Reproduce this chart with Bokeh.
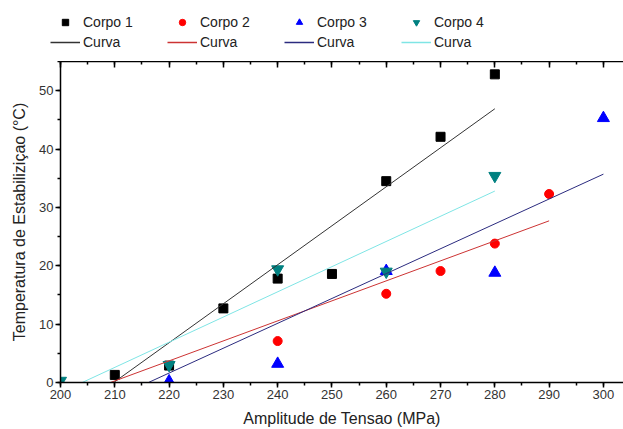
from bokeh.plotting import figure
from bokeh.models import Range1d, LinearAxis, Legend, LegendItem, SingleIntervalTicker
from bokeh.layouts import column
from bokeh.embed import file_html
from bokeh.resources import INLINE

# ---- data ----
corpo1_x = [210, 220, 230, 240, 250, 260, 270, 280]
corpo1_y = [1.3, 2.9, 12.7, 17.8, 18.6, 34.5, 42.1, 52.8]
corpo2_x = [240, 260, 270, 280, 290]
corpo2_y = [7.1, 15.2, 19.1, 23.8, 32.3]
corpo3_x = [220, 240, 260, 280, 300]
corpo3_y = [0.2, 3.2, 19.1, 18.8, 45.3]
corpo4_x = [200, 220, 240, 260, 280]
corpo4_y = [0.3, 3.0, 19.4, 19.0, 35.4]

curva1_x = [209.8, 280]
curva1_y = [0.0, 46.9]
curva2_x = [209.2, 290]
curva2_y = [0.0, 27.7]
curva3_x = [216.2, 300]
curva3_y = [0.0, 35.7]
curva4_x = [204.0, 280]
curva4_y = [0.0, 32.8]

series_labels = ["Corpo 1", "Corpo 2", "Corpo 3", "Corpo 4"]
curve_label = "Curva"

FONT = "Liberation Sans"
marker_styles = [dict(marker="square", size=9, color="black"),
                 dict(marker="circle", size=9, color="#ff0000"),
                 dict(marker="triangle", size=12, color="#0000ff"),
                 dict(marker="inverted_triangle", size=12, color="#008080")]
line_colors = ["#333333", "#cc3333", "#2b2b7f", "#7fe5e5"]

corpo_x = [corpo1_x, corpo2_x, corpo3_x, corpo4_x]
corpo_y = [corpo1_y, corpo2_y, corpo3_y, corpo4_y]
curva_x = [curva1_x, curva2_x, curva3_x, curva4_x]
curva_y = [curva1_y, curva2_y, curva3_y, curva4_y]

LEG_H = 61

# ---------------- main plot ----------------
p = figure(width=623, height=429 - LEG_H, output_backend="svg", toolbar_location=None,
           x_range=Range1d(200, 303.7), y_range=Range1d(0, 55),
           min_border_left=60, min_border_top=0, min_border_right=0, min_border_bottom=47,
           x_axis_label="Amplitude de Tensao (MPa)",
           y_axis_label="Temperatura de Estabiliziçao (°C)")
p.outline_line_color = None
p.grid.visible = False

p.xaxis.ticker = SingleIntervalTicker(interval=10, num_minor_ticks=2)
p.yaxis.ticker = SingleIntervalTicker(interval=10, num_minor_ticks=2)
for ax in (p.xaxis[0], p.yaxis[0]):
    ax.axis_line_color = "black"
    ax.axis_line_width = 1.5
    ax.major_tick_line_color = "black"
    ax.minor_tick_line_color = "black"
    ax.major_tick_line_width = 1.5
    ax.minor_tick_line_width = 1.5
    ax.major_tick_out = 5
    ax.major_tick_in = 0
    ax.minor_tick_out = 3
    ax.minor_tick_in = 0
    ax.major_label_text_font = FONT
    ax.major_label_text_font_size = "13px"
    ax.major_label_text_color = "#333333"
    ax.major_label_standoff = 2
    ax.axis_label_text_font = FONT
    ax.axis_label_text_font_size = "16px"
    ax.axis_label_text_font_style = "normal"
    ax.axis_label_text_color = "#222222"
p.xaxis[0].axis_label_standoff = 8
p.yaxis[0].axis_label_standoff = 8

top = LinearAxis(ticker=SingleIntervalTicker(interval=10, num_minor_ticks=2))
top.axis_line_color = "black"
top.axis_line_width = 1.5
top.major_tick_line_color = "black"
top.minor_tick_line_color = "black"
top.major_tick_line_width = 1.5
top.minor_tick_line_width = 1.5
top.major_tick_in = 6
top.major_tick_out = 0
top.minor_tick_in = 3
top.minor_tick_out = 0
top.major_label_text_font_size = "6px"
top.major_label_text_color = None
top.major_label_standoff = 0
p.add_layout(top, "above")

for xs, ys, st in zip(corpo_x, corpo_y, marker_styles):
    p.scatter(xs, ys, **st)
for xs, ys, c in zip(curva_x, curva_y, line_colors):
    p.line(xs, ys, line_color=c, line_width=1)

# ---------------- legend strip ----------------
lg = figure(width=623, height=LEG_H, output_backend="svg", toolbar_location=None,
            x_range=Range1d(0, 1), y_range=Range1d(0, 1),
            x_axis_type=None, y_axis_type=None,
            min_border_left=0, min_border_right=0, min_border_top=0, min_border_bottom=0)
lg.outline_line_color = None
lg.grid.visible = False

if "frame_align" in lg.properties():
    lg.frame_align = False
    legend_x = 50
else:
    legend_x = 0

items = []
for lab, st, c, cx, cy, lx, ly in zip(series_labels, marker_styles, line_colors,
                                      corpo_x, corpo_y, curva_x, curva_y):
    # legend proxies: same data, but outside this strip's ranges (not visible)
    rm = lg.scatter(cx, cy, **st)
    rl = lg.line(lx, ly, line_color=c, line_width=1.5)
    items.append(LegendItem(label=lab, renderers=[rm]))
    items.append(LegendItem(label=curve_label, renderers=[rl]))

legend = Legend(items=items, orientation="vertical", nrows=2,
                location=(legend_x, 11), glyph_width=30, glyph_height=16,
                label_height=16, label_width=80, spacing=4, padding=2, margin=0,
                label_standoff=3, border_line_color=None, background_fill_alpha=0,
                label_text_font=FONT, label_text_font_size="14px", label_text_color="#222222")
lg.add_layout(legend, "center")

open("out.html", "w").write(file_html(column(lg, p, spacing=0), INLINE))
